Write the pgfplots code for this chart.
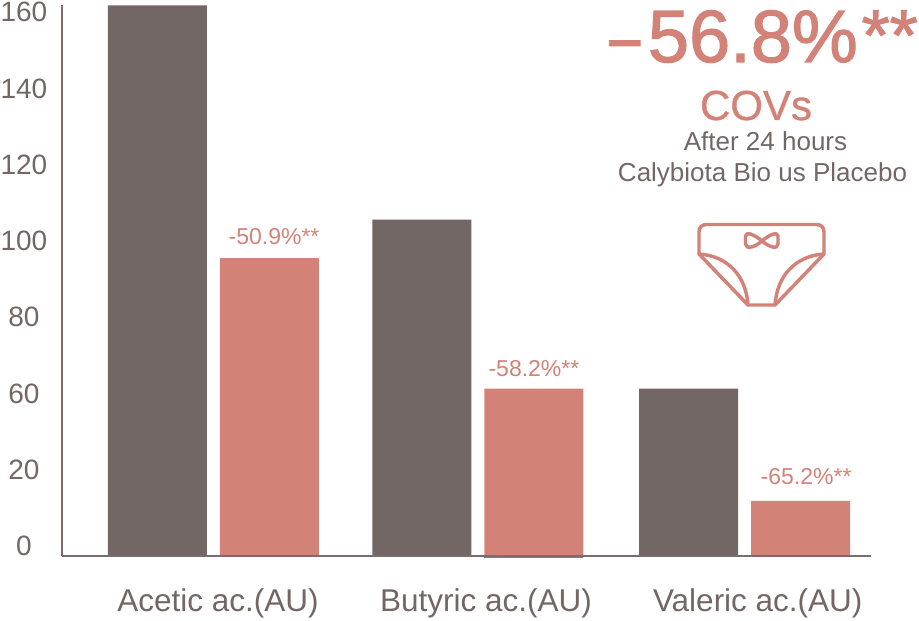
\documentclass[border=0pt]{standalone}
\usepackage{pgfplots}
\pgfplotsset{compat=1.18}
\usepackage{fontspec}
\setmainfont{Liberation Sans}
\newfontfamily\heavyf[FakeBold=1.6]{Liberation Sans}
\newfontfamily\medf[FakeBold=0.8]{Liberation Sans}
\definecolor{grayb}{HTML}{736766}
\definecolor{salmon}{HTML}{D38278}
\definecolor{axisc}{HTML}{7D6C6C}
\newcommand{\fpx}[1]{\fontsize{\dimexpr#1pt*3/4\relax}{\dimexpr#1pt*9/10\relax}\selectfont}
\begin{document}
\begin{tikzpicture}[x=1pt,y=1pt]
\useasboundingbox (0,0) rectangle (689.25pt,465pt);
\begin{axis}[
  at={(46.5pt,48.15pt)}, anchor=south west,
  scale only axis, width=606.75pt, height=413.1pt,
  xmin=-0.5706, xmax=2.4765,
  ymin=0, ymax=164.38,
  y coord trafo/.code={\pgfmathparse{#1>=60 ? #1-20 : #1}\pgfmathresult},
  axis lines=left, axis line style={draw=axisc, line width=1.3pt, -},
  axis on top,
  ytick={0,20,60,80,100,120,140,160},
  yticklabels={0,20,60,80,100,120,140,160},
  xtick={0.017,1.026,2.05},
  xticklabels={Acetic ac.(AU),Butyric ac.(AU),Valeric ac.(AU)},
  tick style={draw=none},
  /pgf/number format/assume math mode=true,
  yticklabel style={text=grayb, font=\fpx{28}, yshift=7.2pt, anchor=center, xshift=-26.4pt},
  xticklabel style={text=grayb, font=\fpx{31.5}, yshift=-17pt},
  ybar, bar width=74.25pt,
  clip=false,
]
\addplot[fill=grayb, draw=none, bar shift=-42pt] coordinates {(0,164.3) (0.996,108.1) (2,63.8)};
\addplot[fill=salmon, draw=none, bar shift=42pt] coordinates {(0,98) (0.996,63.8) (2,14.4)};
\node[text=salmon, font=\fpx{23}, anchor=center] at (axis cs:0.228,103.6) {-50.9\%**};
\node[text=salmon, font=\fpx{23}, anchor=center] at (axis cs:1.207,69.2) {-58.2\%**};
\node[text=salmon, font=\fpx{23}, anchor=center] at (axis cs:2.232,20.7) {-65.2\%**};
\end{axis}
\begin{scope}[shift={(0,465pt)},x=0.75pt,y=-0.75pt]
\fill[axisc, opacity=0.9] (484,555.8) rectangle (583,557.6);
\node[text=salmon, font=\heavyf\fpx{74}, anchor=base east, inner sep=0pt] at (858,62) {56.8\%};
\node[text=salmon, font=\heavyf\fpx{74}, anchor=base west, inner sep=0pt] at (609,62) {\scalebox{0.75}[1]{\char"2013}};
\node[text=salmon, font=\heavyf\fpx{72}, anchor=base east, inner sep=0pt] at (918,60) {**};
\node[text=salmon, font=\medf\fpx{42}, anchor=base, inner sep=0pt] at (756,120) {COVs};
\node[text=grayb, font=\fpx{26}, anchor=base, inner sep=0pt] at (765.5,151) {After 24 hours};
\node[text=grayb, font=\fpx{26}, anchor=base, inner sep=0pt] at (762.5,182) {Calybiota Bio us Placebo};
\begin{scope}[draw=salmon, line width=2.6pt, line join=round, line cap=round]
\draw (699,254) -- (699,232) .. controls (699,227) and (702,224.5) .. (707,224.5) -- (816,224.5) .. controls (821,224.5) and (824,227) .. (824,232) -- (824,254) -- (775,305) -- (748,305) -- cycle;
\draw (699,254) .. controls (728,256) and (746,276) .. (748,305);
\draw (824,254) .. controls (795,256) and (777,276) .. (775,305);
\draw (762,241) .. controls (755,235) and (746,231) .. (745.5,236) -- (745.5,244) .. controls (746,250) and (755,247) .. (762,241) .. controls (769,235) and (777.5,231) .. (778,236) -- (778,244) .. controls (777.5,250) and (769,247) .. (762,241) -- cycle;
\end{scope}
\end{scope}
\end{tikzpicture}
\end{document}
